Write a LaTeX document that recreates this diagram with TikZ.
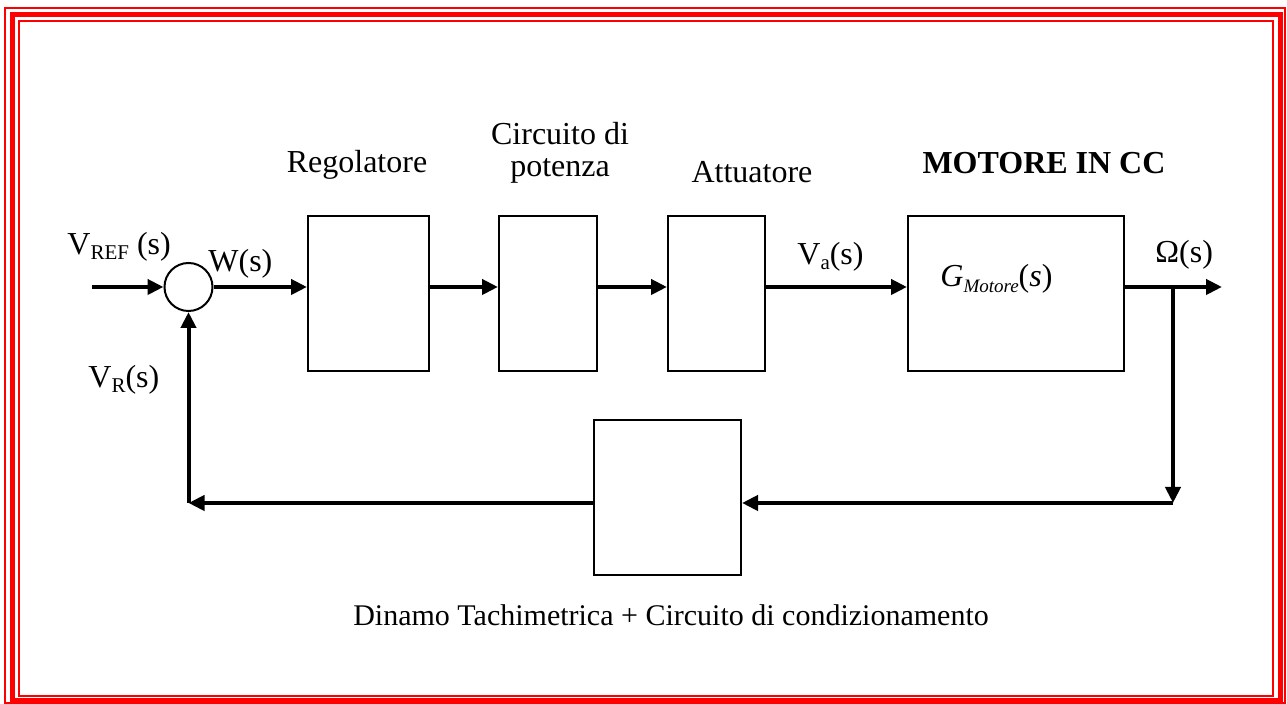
\documentclass[tikz,border=0pt]{standalone}
\usepackage{fontspec}
\setmainfont{Liberation Serif}
\usetikzlibrary{arrows.meta}
\usetikzlibrary{positioning}
\newcommand{\sbs}[1]{\raisebox{-2.5pt}{\fontsize{10.5}{10.5}\selectfont #1}}

\begin{document}
\begin{tikzpicture}[
  x=0.5pt, y=-0.5pt,
  every node/.style={font=\fontsize{16}{16}\selectfont},
  blk/.style={draw, line width=1pt, inner sep=0pt, minimum height=77.5pt},
  sumnode/.style={circle, draw, line width=1pt, inner sep=0pt, minimum size=24pt},
  sig/.style={line width=2pt, -{Triangle[length=8pt,width=7.5pt]}},
  lbl/.style={inner sep=0pt, anchor=base west},
  ttl/.style={inner sep=0pt, anchor=base},
]
\useasboundingbox (0,0) rectangle (1287,704);
% red frame
\draw[red, line width=1pt] (5,8) rectangle (1285,703.5);
\draw[red, line width=2.5pt] (12.5,14.5) rectangle (1280,700.5);
\draw[red, line width=1pt] (19,21) rectangle (1273,696);

% blocks
\node[sumnode] (sum) at (188.5,287) {};
\node[blk, minimum width=60.5pt] (reg) at (368.5,293.5) {};
\node[blk, minimum width=49pt] (pot) at (548,293.5) {};
\node[blk, minimum width=48.5pt] (att) at (716.5,293.5) {};
\node[blk, minimum width=108pt] (mot) at (1016,293.5) {};
\node[blk, minimum width=73.5pt] (tach) at (667.5,497.5) {};

\coordinate (in) at (92,287);
\coordinate (out) at (1222,287);
\coordinate (br) at (1173,287);
\coordinate (cr) at (1173,503);
\coordinate (cl) at (188.5,503);

% labels
\node[ttl] (lreg) at (357,173) {Regolatore};
\node[ttl, align=center] (lpot) at (560,177) {Circuito di\\potenza};
\node[ttl] (latt) at (752,183) {Attuatore};
\node[ttl, font=\fontsize{16}{16}\selectfont\bfseries] (lmot) at (1044,174) {MOTORE IN CC};
\node[ttl, font=\fontsize{15}{15}\selectfont] (ltach) at (671,626) {Dinamo Tachimetrica + Circuito di condizionamento};
\node[lbl] (vref) at (67,255) {V\sbs{REF} (s)};
\node[lbl] (ws) at (208,272) {W(s)};
\node[lbl] (vr) at (88,388) {V\sbs{R}(s)};
\node[lbl] (va) at (797,265) {V\sbs{a}(s)};
\node[lbl] (om) at (1155,263) {Ω(s)};
\node[lbl] (gm) at (940,287) {\textit{G}\raisebox{-3pt}{\fontsize{9.5}{9.5}\selectfont\itshape Motore}(\textit{s})};

% forward path
\draw[sig] (in) -- (sum);
\draw[sig] (sum) -- (reg.west |- sum);
\draw[sig] (reg.east |- sum) -- (pot.west |- sum);
\draw[sig] (pot.east |- sum) -- (att.west |- sum);
\draw[sig] (att.east |- sum) -- (mot.west |- sum);
\draw[sig] (mot.east |- sum) -- (out);

% feedback path
\draw[sig] (br) -- (cr);
\draw[sig] (cr) -- (tach.east |- cr);
\draw[sig] (tach.west |- cr) -- (cl);
\draw[sig] (cl) -- (sum.south);
\end{tikzpicture}
\end{document}
